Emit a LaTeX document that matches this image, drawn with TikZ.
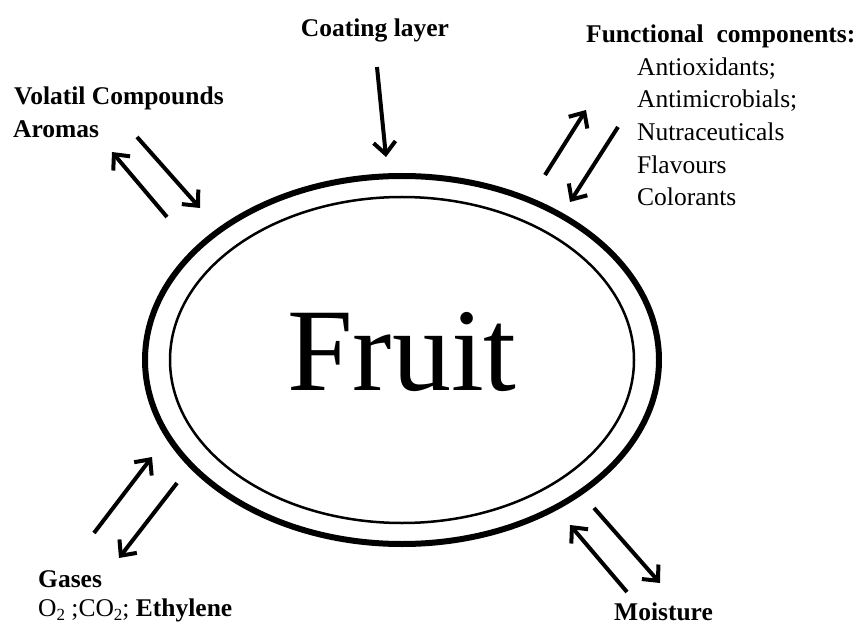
\documentclass[tikz,border=0pt]{standalone}
\usepackage{fontspec}
\setmainfont{Liberation Serif}
\usetikzlibrary{arrows.meta}
\begin{document}
\begin{tikzpicture}[x=1pt,y=-1pt,
  lbl/.style={inner sep=0pt, anchor=base west, font=\fontsize{25.5}{32}\selectfont\bfseries},
  itm/.style={inner sep=0pt, anchor=base west, font=\fontsize{25.5}{32}\selectfont},
  flow/.style={line width=4pt, -{Straight Barb[length=12pt,width=22pt]}},
  rim/.style={line width=6pt},
  inrim/.style={line width=2.5pt}]
\useasboundingbox (0,0) rectangle (862,628);
% fruit with coating
\draw[rim] (402,360) ellipse [x radius=257, y radius=184];
\draw[inrim] (402,360) ellipse [x radius=232, y radius=163];
\node[inner sep=0pt, anchor=base, font=\fontsize{118}{118}\selectfont] (fruit) at (402,390) {Fruit};
% labels
\node[lbl, anchor=base] (coat) at (375,37) {Coating layer};
\node[lbl] (vol1) at (14,105) {Volatil Compounds};
\node[lbl] (vol2) at (13,138) {Aromas};
\node[lbl] (func) at (586,43) {Functional\ \ components:};
\node[itm] (f1) at (637,76) {Antioxidants;};
\node[itm] (f2) at (637,108) {Antimicrobials;};
\node[itm] (f3) at (637,141) {Nutraceuticals};
\node[itm] (f4) at (637,174) {Flavours};
\node[itm] (f5) at (637,206) {Colorants};
\node[lbl] (gas1) at (38,587) {Gases};
\node[lbl] (gas2) at (38,616) {{\mdseries O\raisebox{-0.17em}{\fontsize{17}{17}\selectfont 2} ;CO\raisebox{-0.17em}{\fontsize{17}{17}\selectfont 2};} Ethylene};
\node[lbl] (moist) at (614,620) {Moisture};
% arrow end points
\coordinate (cA) at (377,67);  \coordinate (cB) at (386,157);
\coordinate (vA) at (167,217); \coordinate (vB) at (112,152);
\coordinate (vC) at (137,137); \coordinate (vD) at (200,208);
\coordinate (fA) at (545,175); \coordinate (fB) at (586,110);
\coordinate (fC) at (618,127); \coordinate (fD) at (570,202);
\coordinate (gA) at (94,533);  \coordinate (gB) at (152,457);
\coordinate (gC) at (177,483); \coordinate (gD) at (119,558);
\coordinate (mA) at (627,592); \coordinate (mB) at (570,525);
\coordinate (mC) at (594,508); \coordinate (mD) at (660,583);
% arrows
\draw[flow] (cA) -- (cB);
\draw[flow] (vA) -- (vB);
\draw[flow] (vC) -- (vD);
\draw[flow] (fA) -- (fB);
\draw[flow] (fC) -- (fD);
\draw[flow] (gA) -- (gB);
\draw[flow] (gC) -- (gD);
\draw[flow] (mA) -- (mB);
\draw[flow] (mC) -- (mD);
\end{tikzpicture}
\end{document}
